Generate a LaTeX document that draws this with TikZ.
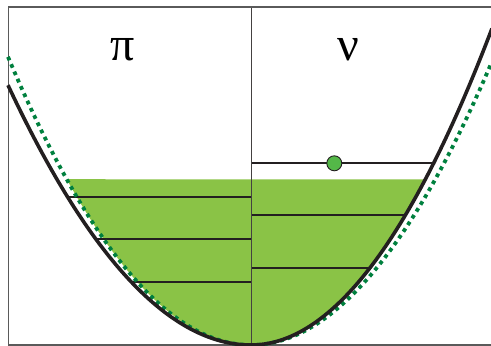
\documentclass[tikz,border=0pt]{standalone}
\usepackage{fontspec}
\setmainfont{Liberation Serif}
\usepackage{tikz}
\definecolor{wellfill}{RGB}{138,195,70}
\definecolor{wellgreen}{RGB}{0,128,62}
\definecolor{dotgreen}{RGB}{84,184,72}
\definecolor{curveblack}{RGB}{35,31,32}
\definecolor{framegray}{RGB}{90,90,90}

\begin{document}
\begin{tikzpicture}[
    x=1pt, y=-1pt,
    every node/.style={font=\fontsize{48}{48}\selectfont},
    frameline/.style={draw=framegray, line width=1.1pt},
    divider/.style={draw=curveblack!85, line width=1pt},
    level/.style={draw=curveblack, line width=2.3pt},
    potential/.style={draw=curveblack, line width=3.6pt},
    harmonic/.style={draw=wellgreen, line width=3.8pt, dash pattern=on 3.8pt off 4.2pt},
    filled/.style={fill=wellfill},
    electron/.style={circle, draw=curveblack, line width=0.9pt, fill=dotgreen,
        minimum size=15pt, inner sep=0pt}
]
\useasboundingbox (0,0) rectangle (491,346);

% occupied levels
\fill[filled] plot[domain=-1.843:0, samples=60] ({251+100*\x}, {345-48.8*\x*\x})
    -- plot[domain=0:1.744, samples=60] ({251+100*\x}, {345-54.5*\x*\x}) -- cycle;

\foreach \yy in {196.7,239,281.7}
    \draw[level] ({251-100*sqrt((345-\yy)/44)}, \yy) -- (251, \yy);
\foreach \yy in {163.3,215,267.7}
    \draw[level] (251, \yy) -- ({251+100*sqrt((345-\yy)/54.5)}, \yy);

\draw[divider] (251,7) -- (251,345);
\draw[frameline] (492,7) -- (8.5,7) -- (8.5,345) -- (492,345);

% wells
\draw[harmonic] plot[domain=-2.43:2.41, samples=120] ({251+100*\x}, {345-48.8*\x*\x});
\draw[potential] plot[domain=-2.43:0, samples=80] ({251+100*\x}, {345-44*\x*\x})
    -- plot[domain=0:2.41, samples=80] ({251+100*\x}, {345-54.5*\x*\x});

\node (pi) at (123,50) {π};
\node (nu) at (348,50) {ν};
\node[electron] (e) at (334.3,163.3) {};
\end{tikzpicture}
\end{document}
